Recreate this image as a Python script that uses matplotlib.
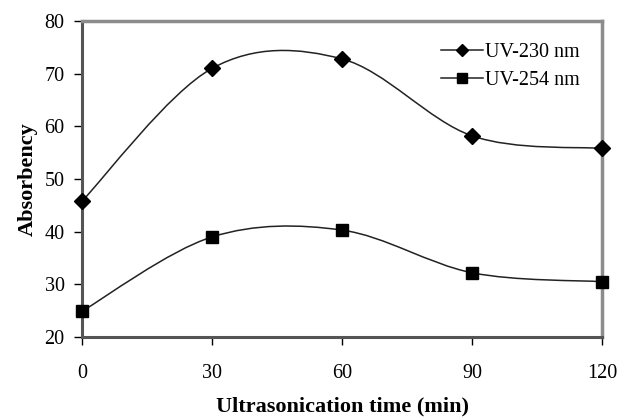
import matplotlib
matplotlib.use("Agg")
import matplotlib.pyplot as plt
from matplotlib.path import Path
from matplotlib.patches import PathPatch
from matplotlib.lines import Line2D

time_min = [0, 30, 60, 90, 120]
uv230 = [45.8, 71.0, 72.8, 58.2, 55.8]
uv254 = [24.9, 39.0, 40.3, 32.2, 30.5]
x_ticks = [0, 30, 60, 90, 120]
y_ticks = [20, 30, 40, 50, 60, 70, 80]

plt.rcParams['font.family'] = ['Liberation Serif', 'DejaVu Serif']


def smooth_path(xs, ys):
    # excel-like smoothed line: cubic bezier, catmull-rom control points
    pts = list(zip(xs, ys))
    n = len(pts)
    verts = [pts[0]]
    codes = [Path.MOVETO]
    for i in range(n - 1):
        p0 = pts[i - 1] if i > 0 else pts[i]
        p1 = pts[i]
        p2 = pts[i + 1]
        p3 = pts[i + 2] if i + 2 < n else pts[i + 1]
        c1 = (p1[0] + (p2[0] - p0[0]) / 6, p1[1] + (p2[1] - p0[1]) / 6)
        c2 = (p2[0] - (p3[0] - p1[0]) / 6, p2[1] - (p3[1] - p1[1]) / 6)
        verts += [c1, c2, p2]
        codes += [Path.CURVE4] * 3
    return Path(verts, codes)


fig = plt.figure(figsize=(6.19, 4.19), dpi=100)
ax = fig.add_axes([82 / 619, 1 - 337 / 419, 520 / 619, 316 / 419])

for ys, mk, ms in [(uv230, 'D', 8), (uv254, 's', 8.5)]:
    ax.add_patch(PathPatch(smooth_path(time_min, ys), fill=False,
                           edgecolor='#222222', lw=1.1, zorder=3))
    ax.plot(time_min, ys, linestyle='none', marker=mk, ms=ms,
            color='black', clip_on=False, zorder=4)

ax.set_xlim(0, 120)
ax.set_ylim(20, 80)
ax.set_xticks(x_ticks)
ax.set_yticks(y_ticks)
ax.tick_params(direction='out', length=5.5, width=1, colors='black',
               labelsize=14.5)
ax.tick_params(axis='y', pad=7)
ax.tick_params(axis='x', pad=14)

for side in ['top', 'right']:
    ax.spines[side].set_color('#8c8c8c')
    ax.spines[side].set_linewidth(2.5)
for side in ['left', 'bottom']:
    ax.spines[side].set_color('#555555')
    ax.spines[side].set_linewidth(2.2)

ax.set_xlabel('Ultrasonication time (min)', fontsize=16, fontweight='bold',
              labelpad=10)
ax.set_ylabel('Absorbency', fontsize=16, fontweight='bold', labelpad=5)

handles = [
    Line2D([], [], color='#222222', lw=1.1, marker='D', ms=6.5,
           markerfacecolor='black', markeredgecolor='black'),
    Line2D([], [], color='#222222', lw=1.1, marker='s', ms=7.5,
           markerfacecolor='black', markeredgecolor='black'),
]
ax.legend(handles, ['UV-230 nm', 'UV-254 nm'], loc='upper right',
          frameon=False, fontsize=14.5, handlelength=2.1, handletextpad=0.1,
          labelspacing=0.45, borderaxespad=0.5, borderpad=0.6)

fig.savefig('out.png', dpi=100)
